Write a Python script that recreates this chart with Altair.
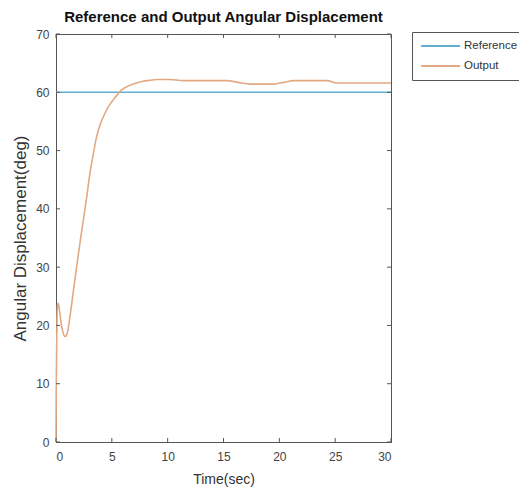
import altair as alt
import pandas as pd

# Reference signal
ref_t = [0, 30]
ref_v = [60, 60]

# Output response
out_t = [0, 0.01, 0.03, 0.06, 0.1, 0.15, 0.2, 0.3, 0.45, 0.6, 0.8, 1.0, 1.25, 1.55, 1.85, 2.15,
         2.45, 2.75, 3.04, 3.35, 3.64, 4.0, 4.39, 4.75, 5.13, 5.5, 5.88, 6.5, 7.2, 7.8, 8.4,
         9.0, 10.2, 11.4, 13.0, 15.3, 16.3, 17.4, 19.5, 20.4, 21.3, 24.3, 25.1, 30]
out_v = [0, 5, 11, 16, 22, 23.6, 23.8, 22.8, 20.5, 19.0, 18.1, 18.6, 21.5, 25.8, 30.1, 34.2,
         38.1, 42.0, 46.1, 49.5, 52.4, 54.7, 56.4, 57.7, 58.7, 59.6, 60.4, 61.1, 61.6, 61.9, 62.05,
         62.2, 62.2, 62.0, 62.0, 62.0, 61.7, 61.4, 61.4, 61.7, 62.0, 62.0, 61.6, 61.6]

x_ticks = [0, 5, 10, 15, 20, 25, 30]
y_ticks = [0, 10, 20, 30, 40, 50, 60, 70]

W, H = 335, 408

df = pd.concat([
    pd.DataFrame({"t": ref_t, "v": ref_v, "series": "Reference"}),
    pd.DataFrame({"t": out_t, "v": out_v, "series": "Output"}),
])

xs = alt.Scale(domain=[0, 30], nice=False, zero=False)
ys = alt.Scale(domain=[0, 70], nice=False)

lines = alt.Chart(df).mark_line(strokeWidth=1.6, interpolate="monotone").encode(
    x=alt.X("t:Q", scale=xs, title="Time(sec)",
            axis=alt.Axis(values=x_ticks, grid=False, tickSize=0, labelPadding=9,
                          titlePadding=10, titleFontSize=14, domainColor="#555")),
    y=alt.Y("v:Q", scale=ys, title="Angular Displacement(deg)",
            axis=alt.Axis(values=y_ticks, grid=False, tickSize=0, labelPadding=7,
                          titlePadding=6, titleFontSize=17, domainColor="#555")),
    color=alt.Color("series:N",
                    scale=alt.Scale(domain=["Reference", "Output"], range=["#62aed0", "#e2a982"]),
                    legend=alt.Legend(title=None, orient="none", legendX=356, legendY=-2,
                                      symbolType="M-1,0H7", symbolSize=95, symbolStrokeWidth=2,
                                      strokeColor="#555", fillColor="white", padding=8,
                                      labelFontSize=11.5, labelColor="#333", rowPadding=8,
                                      labelOffset=32, labelFont="Liberation Sans")),
    detail="series:N",
)

xt = pd.DataFrame({"t": x_ticks})
yt = pd.DataFrame({"v": y_ticks})
tick_color = "#555"
xb = alt.Chart(xt).mark_rule(color=tick_color).encode(
    x=alt.X("t:Q", scale=xs), y=alt.value(H), y2=alt.value(H - 4))
xtop = alt.Chart(xt).mark_rule(color=tick_color).encode(
    x=alt.X("t:Q", scale=xs), y=alt.value(0), y2=alt.value(4))
yl = alt.Chart(yt).mark_rule(color=tick_color).encode(
    y=alt.Y("v:Q", scale=ys), x=alt.value(0), x2=alt.value(4))
yr = alt.Chart(yt).mark_rule(color=tick_color).encode(
    y=alt.Y("v:Q", scale=ys), x=alt.value(W), x2=alt.value(W - 4))

chart = alt.layer(lines, xb, xtop, yl, yr).properties(
    width=W, height=H,
    autosize=alt.AutoSizeParams(type="none"),
    padding={"left": 56, "top": 34, "right": 128, "bottom": 53},
    title=alt.TitleParams("Reference and Output Angular Displacement", fontSize=15,
                          font="Liberation Sans", fontWeight="bold", color="#111",
                          anchor="middle", offset=3),
).configure_view(stroke="#555", strokeWidth=1).configure_axis(
    labelFont="Liberation Sans", labelFontSize=12, labelColor="#444",
    titleFont="Liberation Sans", titleFontWeight="normal", titleColor="#333",
)

chart.save("out.html", embed_options={"renderer": "svg", "actions": False})
